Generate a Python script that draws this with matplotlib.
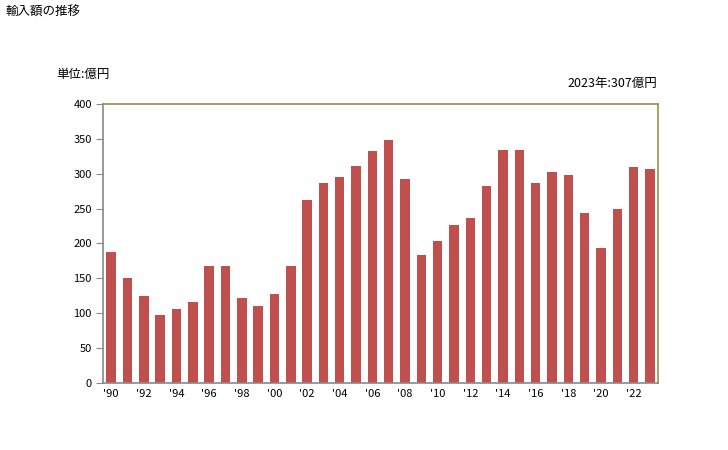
import matplotlib
matplotlib.use("Agg")
import matplotlib.pyplot as plt

plt.rcParams['font.family'] = ['Noto Sans CJK JP', 'DejaVu Sans']

years = list(range(1990, 2024))
values = [188, 150, 125, 98, 106, 116, 168, 168, 122, 111, 128, 167,
          263, 286, 295, 311, 332, 349, 292, 183, 204, 226, 236, 282,
          334, 334, 286, 302, 298, 244, 194, 250, 309, 307]
tick_labels = ["'%02d" % (y % 100) if y % 2 == 0 else "" for y in years]

fig = plt.figure(figsize=(7.28, 4.5), dpi=100)
ax = fig.add_axes([0.1415, 0.149, 0.7625, 0.62])

x = list(range(len(years)))
ax.bar(x, values, width=0.58, color='#C0504D')

ax.set_xlim(-0.5, len(years) - 0.5)
ax.set_ylim(0, 400)
ax.set_yticks(range(0, 401, 50))
ax.set_xticks(x)
ax.set_xticklabels(tick_labels)
ax.tick_params(axis='x', length=0, labelsize=8, pad=4)
ax.tick_params(axis='y', length=5, color='#888888', labelsize=8, pad=3)

for s in ['left', 'bottom']:
    ax.spines[s].set_color('#888888')
    ax.spines[s].set_linewidth(1.2)
for s in ['top', 'right']:
    ax.spines[s].set_color('#9C8F4A')
    ax.spines[s].set_linewidth(1.2)

fig.text(0.007, 0.972, '輸入額の推移', fontsize=9, va='center', ha='left')
fig.text(0.077, 0.835, '単位:億円', fontsize=9, va='center', ha='left')
fig.text(0.903, 0.815, '2023年:307億円', fontsize=9, va='center', ha='right')

fig.savefig('out.png', dpi=100)
